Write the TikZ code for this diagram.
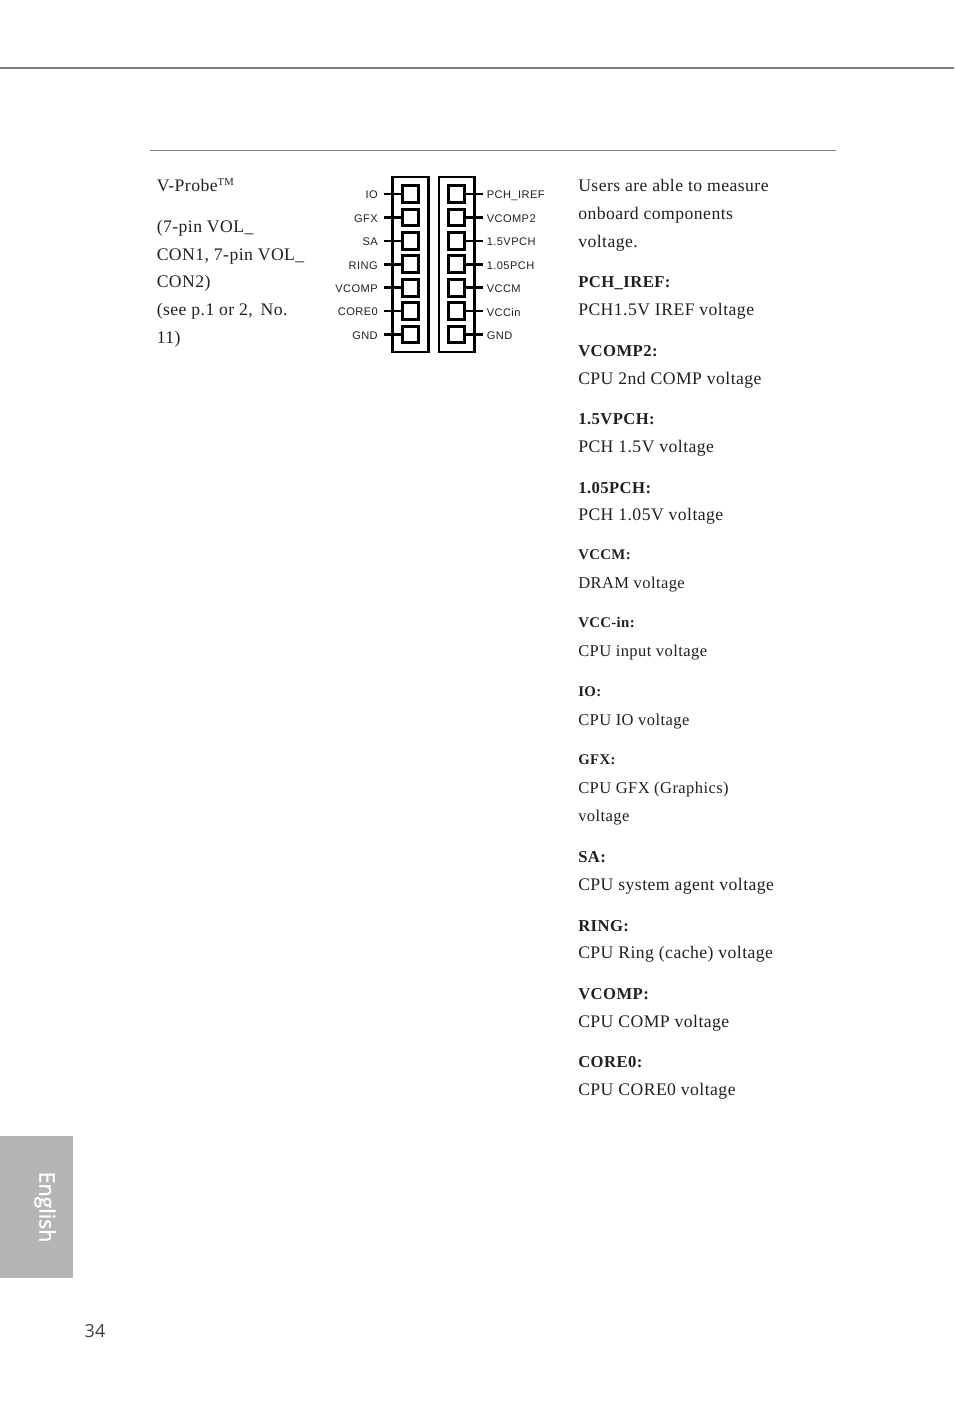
\documentclass[tikz,border=0pt]{standalone}
\usepackage{fontspec}
\setmainfont{Liberation Serif}[LetterSpace=2.5]
\newfontfamily\pinfont{Liberation Sans}[LetterSpace=4]
\newfontfamily\tabfont{Open Sans}[FakeBold=1.5]
\newfontfamily\pagefont{Open Sans}
\definecolor{inkgray}{HTML}{231F20}
\definecolor{rulegray}{HTML}{808080}
\definecolor{tabgray}{HTML}{B5B5B5}
\tikzset{
  body/.style={anchor=base west,inner sep=0pt,text=inkgray,font=\fontsize{13.25pt}{15pt}\selectfont},
  head/.style={body,font=\fontsize{12.5pt}{15pt}\selectfont\bfseries},
  subhead/.style={body,font=\fontsize{11.1pt}{14pt}\selectfont\bfseries},
  small/.style={body,font=\fontsize{12.4pt}{14pt}\selectfont},
  pin/.style={draw=black,fill=white,line width=2.3pt,minimum size=12.6pt,inner sep=0pt},
  wall/.style={draw=black,line width=2.2pt},
  stub/.style={black,line width=2.1pt},
  pinleft/.style={anchor=base east,inner sep=0pt,text=inkgray,font=\pinfont\fontsize{8.3pt}{10pt}\selectfont},
  pinright/.style={pinleft,anchor=base west}
}
\begin{document}
\begin{tikzpicture}[x=0.75pt,y=-0.75pt]
\useasboundingbox (0,0) rectangle (954,1412);
\draw [rulegray,line width=1.1pt] (0,68)-- (954,68);
\draw [rulegray,line width=0.6pt] (150,150.5)-- (836,150.5);
\fill [tabgray] (0,1136) rectangle (73,1278);
\node (tab) [rotate=-90,text=white,font=\tabfont\fontsize{16pt}{18pt}\selectfont] at (45,1207) {English};
\node (page) [text=inkgray!85,font=\pagefont\fontsize{13.5pt}{16pt}\selectfont] at (95,1331.5) {34};
% left column
\node (name) [body] at (156.5,192) {V-Probe\textsuperscript{\fontsize{8pt}{9pt}\selectfont TM}};
\node (con1) [body] at (156.5,232.5) {(7-pin VOL\_};
\node (con2) [body] at (156.5,260.5) {CON1, 7-pin VOL\_};
\node (con3) [body] at (156.5,287.5) {CON2)};
\node (see1) [body] at (156.5,315.5) {(see p.1 or 2,\, No.};
\node (see2) [body] at (156.5,343.5) {11)};
% connector
\draw [wall] (392.5,177) rectangle (428.5,352);
\draw [wall] (439,177) rectangle (474.5,352);
\coordinate (endA) at (384,194);
\coordinate (endB) at (384,217.5);
\coordinate (endC) at (384,241);
\coordinate (endD) at (384,264.3);
\coordinate (endE) at (384,287.7);
\coordinate (endF) at (384,311);
\coordinate (endG) at (384,334.5);
\coordinate (endH) at (483,194);
\coordinate (endI) at (483,217.5);
\coordinate (endJ) at (483,241);
\coordinate (endK) at (483,264.3);
\coordinate (endL) at (483,287.7);
\coordinate (endM) at (483,311);
\coordinate (endN) at (483,334.5);
\node (pinA) [pin] at (410.5,194) {};
\node (pinB) [pin] at (410.5,217.5) {};
\node (pinC) [pin] at (410.5,241) {};
\node (pinD) [pin] at (410.5,264.3) {};
\node (pinE) [pin] at (410.5,287.7) {};
\node (pinF) [pin] at (410.5,311) {};
\node (pinG) [pin] at (410.5,334.5) {};
\node (pinH) [pin] at (456.5,194) {};
\node (pinI) [pin] at (456.5,217.5) {};
\node (pinJ) [pin] at (456.5,241) {};
\node (pinK) [pin] at (456.5,264.3) {};
\node (pinL) [pin] at (456.5,287.7) {};
\node (pinM) [pin] at (456.5,311) {};
\node (pinN) [pin] at (456.5,334.5) {};
\draw [stub] (endA)-- (pinA);
\draw [stub] (endB)-- (pinB);
\draw [stub] (endC)-- (pinC);
\draw [stub] (endD)-- (pinD);
\draw [stub] (endE)-- (pinE);
\draw [stub] (endF)-- (pinF);
\draw [stub] (endG)-- (pinG);
\draw [stub] (endH)-- (pinH);
\draw [stub] (endI)-- (pinI);
\draw [stub] (endJ)-- (pinJ);
\draw [stub] (endK)-- (pinK);
\draw [stub] (endL)-- (pinL);
\draw [stub] (endM)-- (pinM);
\draw [stub] (endN)-- (pinN);
\node (pinIO) [pinleft] at (378,199) {IO};
\node (pinGFX) [pinleft] at (378,222.5) {GFX};
\node (pinSA) [pinleft] at (378,246) {SA};
\node (pinRING) [pinleft] at (378,269.5) {RING};
\node (pinVCOMP) [pinleft] at (378,292.5) {VCOMP};
\node (pinCORE) [pinleft] at (378,315.5) {CORE0};
\node (pinGNDa) [pinleft] at (378,339.5) {GND};
\node (pinIREF) [pinright] at (486.5,198.5) {PCH\_IREF};
\node (pinVCOMPb) [pinright] at (486.5,222.5) {VCOMP2};
\node (pinVPCHa) [pinright] at (486.5,245.5) {1.5VPCH};
\node (pinVPCHb) [pinright] at (486.5,269.5) {1.05PCH};
\node (pinVCCM) [pinright] at (486.5,292.5) {VCCM};
\node (pinVCCin) [pinright] at (486.5,316) {VCCin};
\node (pinGNDb) [pinright] at (486.5,339.5) {GND};
% right column
\node (usersA) [body] at (578,192) {Users are able to measure};
\node (usersB) [body] at (578,220) {onboard components};
\node (usersC) [body] at (578,248) {voltage.};
\node (irefH) [head] at (578,287.3) {PCH\_IREF:};
\node (irefT) [body] at (578,315.5) {PCH1.5V IREF voltage};
\node (compH) [head] at (578,356.3) {VCOMP2:};
\node (compT) [body] at (578,384.5) {CPU 2nd COMP voltage};
\node (vpchH) [head] at (578,424.3) {1.5VPCH:};
\node (vpchT) [body] at (578,452.5) {PCH 1.5V voltage};
\node (wpchH) [head] at (578,493.3) {1.05PCH:};
\node (wpchT) [body] at (578,520.5) {PCH 1.05V voltage};
\node (vccmH) [subhead] at (578,559.3) {VCCM:};
\node (vccmT) [small] at (578,588) {DRAM voltage};
\node (vccinH) [subhead] at (578,627.3) {VCC-in:};
\node (vccinT) [small] at (578,656) {CPU input voltage};
\node (ioH) [subhead] at (578,696.3) {IO:};
\node (ioT) [small] at (578,725) {CPU IO voltage};
\node (gfxH) [subhead] at (578,764.3) {GFX:};
\node (gfxT) [small] at (578,793) {CPU GFX (Graphics)};
\node (gfxU) [small] at (578,821) {voltage};
\node (saH) [head] at (578,862) {SA:};
\node (saT) [body] at (578,890) {CPU system agent voltage};
\node (ringH) [head] at (578,931) {RING:};
\node (ringT) [body] at (578,958) {CPU Ring (cache) voltage};
\node (vcompH) [head] at (578,999) {VCOMP:};
\node (vcompT) [body] at (578,1027) {CPU COMP voltage};
\node (coreH) [head] at (578,1067) {CORE0:};
\node (coreT) [body] at (578,1095) {CPU CORE0 voltage};
\end{tikzpicture}
\end{document}
